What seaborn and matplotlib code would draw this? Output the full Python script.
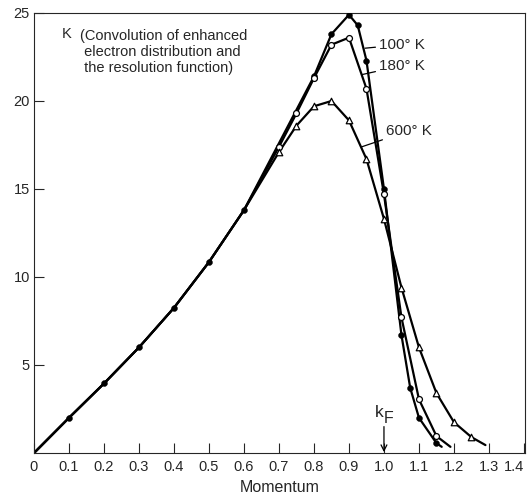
import numpy as np
import pandas as pd
import matplotlib
matplotlib.use('Agg')
import matplotlib.pyplot as plt
import seaborn as sns

# shared rising part of the curve (all temperatures)
common_x = [0.0, 0.1, 0.2, 0.3, 0.4, 0.5, 0.6]
common_y = [0.0, 2.0, 3.95, 6.0, 8.25, 10.85, 13.8]

# 100 K (filled circles)
k100_x = [0.8, 0.85, 0.9, 0.925, 0.95, 1.0, 1.05, 1.075, 1.1, 1.15]
k100_y = [21.4, 23.8, 24.9, 24.3, 22.3, 15.0, 6.7, 3.7, 2.0, 0.56]
k100_end = (1.165, 0.35)

# 180 K (open circles)
k180_x = [0.7, 0.75, 0.8, 0.85, 0.9, 0.95, 1.0, 1.05, 1.1, 1.15]
k180_y = [17.4, 19.3, 21.3, 23.2, 23.6, 20.7, 14.7, 7.7, 3.05, 0.96]
k180_end = (1.19, 0.35)

# 600 K (open triangles)
k600_x = [0.7, 0.75, 0.8, 0.85, 0.9, 0.95, 1.0, 1.05, 1.1, 1.15, 1.2, 1.25]
k600_y = [17.1, 18.6, 19.7, 20.0, 18.9, 16.7, 13.3, 9.4, 6.0, 3.4, 1.75, 0.9]
k600_end = (1.29, 0.45)

x_ticks = [0, 0.1, 0.2, 0.3, 0.4, 0.5, 0.6, 0.7, 0.8, 0.9, 1.0, 1.1, 1.2, 1.3, 1.4]
x_labels = ['0', '0.1', '0.2', '0.3', '0.4', '0.5', '0.6', '0.7', '0.8', '0.9',
            '1.0', '1.1', '1.2', '1.3', '1.4']
y_ticks = [5, 10, 15, 20, 25]

sns.set_style('ticks')
plt.rcParams['font.family'] = ['Liberation Sans', 'DejaVu Sans']
plt.rcParams['font.size'] = 10.5

# build line table
rows = []
for name, xs, ys, end in [('100', k100_x, k100_y, k100_end),
                          ('180', k180_x, k180_y, k180_end),
                          ('600', k600_x, k600_y, k600_end)]:
    lx = common_x + xs + [end[0]]
    ly = common_y + ys + [end[1]]
    for a, b in zip(lx, ly):
        rows.append({'series': name, 'x': a, 'y': b})
lines = pd.DataFrame(rows)

fig = plt.figure(figsize=(5.32, 4.97), dpi=100)
ax = fig.add_axes([34 / 532, 44 / 497, 491 / 532, 440 / 497])

sns.lineplot(data=lines, x='x', y='y', units='series', estimator=None,
             sort=False, color='black', lw=1.6, ax=ax, legend=False)

common = pd.DataFrame({'x': common_x[1:], 'y': common_y[1:]})
sns.scatterplot(data=common, x='x', y='y', marker='o', s=18, color='black',
                edgecolor='black', ax=ax, zorder=5)
sns.scatterplot(x=k100_x, y=k100_y, marker='o', s=18, color='black',
                edgecolor='black', ax=ax, zorder=5)
sns.scatterplot(x=k180_x, y=k180_y, marker='o', s=18, color='white',
                edgecolor='black', linewidth=0.9, ax=ax, zorder=6)
sns.scatterplot(x=k600_x, y=k600_y, marker='^', s=22, color='white',
                edgecolor='black', linewidth=0.9, ax=ax, zorder=6)

ax.set_xlim(0, 1.403)
ax.set_ylim(0, 25)
ax.set_xticks(x_ticks)
ax.set_xticklabels(x_labels)
ax.set_yticks(y_ticks)
ax.tick_params(direction='in', length=7, width=0.8, top=False, right=False,
               labelsize=10.5)
ax.tick_params(axis='x', pad=5)
ax.tick_params(axis='y', pad=3)
# keep the last label inside the figure
ax.get_xticklabels()[-1].set_horizontalalignment('right')
ax.get_xticklabels()[-1].set_x(1.42)
for sp in ax.spines.values():
    sp.set_linewidth(0.8)
    sp.set_visible(True)

ax.set_xlabel('Momentum', fontsize=11.5, labelpad=4)
ax.set_ylabel('')

# title block
ax.text(0.08, 23.8, 'K', fontsize=10.5, ha='left', va='center')
ax.text(0.132, 22.8, '(Convolution of enhanced\n electron distribution and\n the resolution function)',
        fontsize=10.5, ha='left', va='center', linespacing=1.2)

# temperature labels
lead = dict(arrowstyle='-', lw=0.9, color='black', shrinkA=0, shrinkB=0)
ax.annotate('100° K', xy=(0.946, 23.0), xytext=(0.985, 23.2),
            ha='left', va='center', fontsize=11, arrowprops=lead)
ax.annotate('180° K', xy=(0.937, 21.5), xytext=(0.985, 22.0),
            ha='left', va='center', fontsize=11, arrowprops=lead)
ax.annotate('600° K', xy=(0.937, 17.4), xytext=(1.005, 18.3),
            ha='left', va='center', fontsize=11, arrowprops=lead)

# Fermi momentum marker
ax.annotate('', xy=(1.0, 0.05), xytext=(1.0, 1.5),
            arrowprops=dict(arrowstyle='->', lw=0.9, color='black',
                            shrinkA=0, shrinkB=0))
ax.text(0.975, 2.3, 'k', fontsize=12.5, ha='left', va='center')
ax.text(1.0, 1.95, 'F', fontsize=11.5, ha='left', va='center')

fig.savefig('out.png', dpi=100)
